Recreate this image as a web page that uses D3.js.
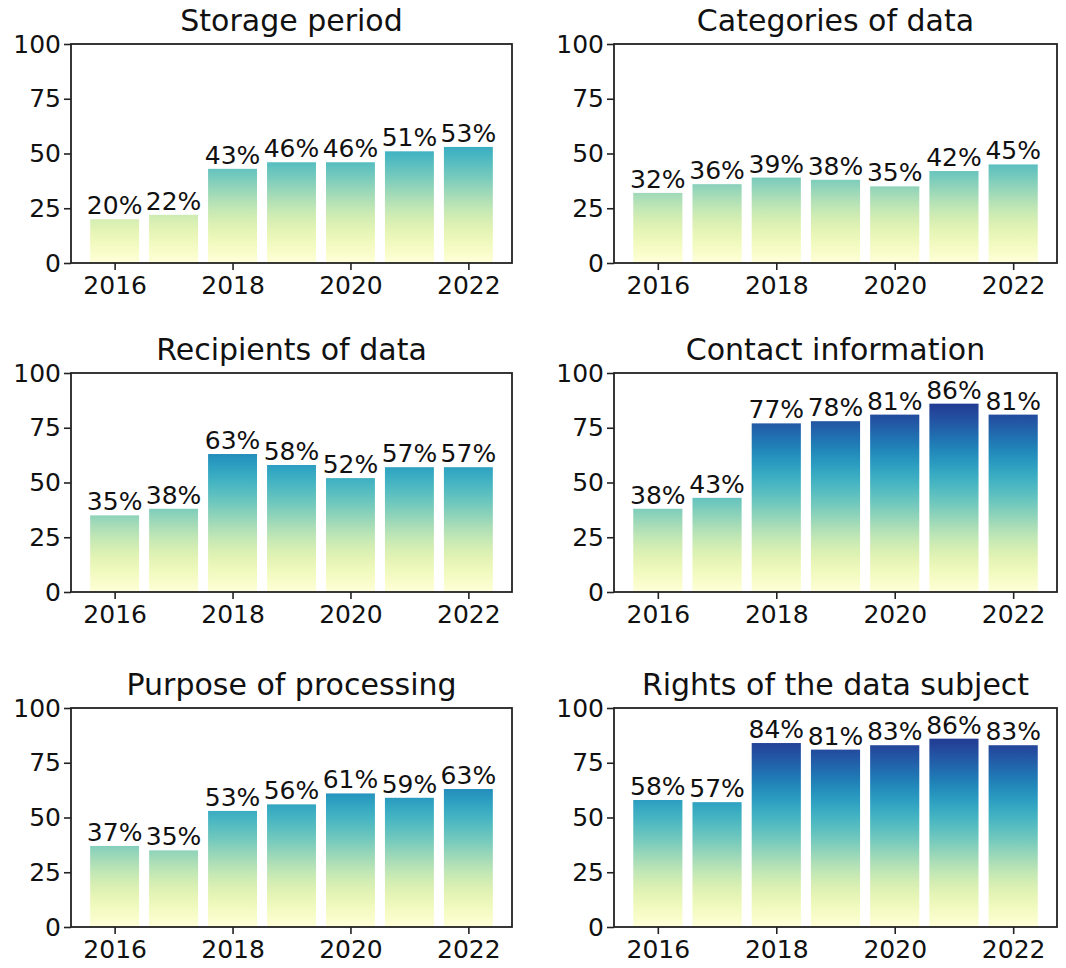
<!DOCTYPE html>
<html>
<head>
<meta charset="utf-8">
<script src="https://cdn.jsdelivr.net/npm/d3@7"></script>
<style>
  body { margin: 0; background: #fff; }
  svg text { font-family: "DejaVu Sans", sans-serif; fill: #111; }
</style>
</head>
<body>
<svg id="chart" width="1066" height="968"></svg>
<script>
// data (percent of policies)
var years = [2016, 2017, 2018, 2019, 2020, 2021, 2022];
var xTicks = [2016, 2018, 2020, 2022];
var yTicks = [0, 25, 50, 75, 100];
var titles = ["Storage period", "Categories of data", "Recipients of data",
              "Contact information", "Purpose of processing", "Rights of the data subject"];
var storagePeriod = [20, 22, 43, 46, 46, 51, 53];
var categoriesOfData = [32, 36, 39, 38, 35, 42, 45];
var recipientsOfData = [35, 38, 63, 58, 52, 57, 57];
var contactInformation = [38, 43, 77, 78, 81, 86, 81];
var purposeOfProcessing = [37, 35, 53, 56, 61, 59, 63];
var rightsOfDataSubject = [58, 57, 84, 81, 83, 86, 83];

var series = [storagePeriod, categoriesOfData, recipientsOfData,
              contactInformation, purposeOfProcessing, rightsOfDataSubject];

var svg = d3.select("#chart");
var defs = svg.append("defs");

// panel boxes (plot area)
var colX = [[71, 512], [614, 1057]];
var rowY = [44, 373, 708];
var plotH = 219;
var barW = 0.83;

series.forEach(function(vals, i) {
  var col = i % 2, row = Math.floor(i / 2);
  var x0 = colX[col][0], x1 = colX[col][1];
  var top = rowY[row], bottom = top + plotH;

  var x = d3.scaleLinear().domain([2015.26, 2022.74]).range([x0, x1]);
  var y = d3.scaleLinear().domain([0, 100]).range([bottom, top]);

  // gradient in data space: colour depends on absolute height
  var grad = defs.append("linearGradient")
      .attr("id", "grad" + i)
      .attr("gradientUnits", "userSpaceOnUse")
      .attr("x1", 0).attr("x2", 0)
      .attr("y1", y(0)).attr("y2", y(100));
  d3.range(0, 1.0001, 0.05).forEach(function(t) {
    grad.append("stop")
        .attr("offset", t)
        .attr("stop-color", d3.interpolateYlGnBu(t));
  });

  var g = svg.append("g");

  g.selectAll("rect.bar")
    .data(vals)
    .enter().append("rect")
      .attr("class", "bar")
      .attr("x", function(d, j) { return x(years[j] - barW / 2); })
      .attr("width", function(d, j) { return x(years[j] + barW / 2) - x(years[j] - barW / 2); })
      .attr("y", function(d) { return y(d); })
      .attr("height", function(d) { return y(0) - y(d); })
      .style("fill", "url(#grad" + i + ")");

  g.selectAll("text.val")
    .data(vals)
    .enter().append("text")
      .attr("class", "val")
      .attr("x", function(d, j) { return x(years[j]); })
      .attr("y", function(d) { return y(d) - 5; })
      .attr("text-anchor", "middle")
      .style("font-size", "25px")
      .text(function(d) { return d + "%"; });

  // axes
  var yAxis = d3.axisLeft(y).tickValues(yTicks).tickSize(7).tickPadding(3);
  var xAxis = d3.axisBottom(x).tickValues(xTicks).tickFormat(d3.format("d")).tickSize(7).tickPadding(6);

  var ya = g.append("g")
      .attr("transform", "translate(" + x0 + ",0)")
      .call(yAxis);
  var xa = g.append("g")
      .attr("transform", "translate(0," + bottom + ")")
      .call(xAxis);
  [ya, xa].forEach(function(a) {
    a.select(".domain").remove();
    a.selectAll(".tick line").attr("stroke", "#222").attr("stroke-width", 1.6);
    a.selectAll(".tick text").style("font-size", "25px").attr("fill", "#111");
  });

  // frame
  g.append("rect")
      .attr("x", x0).attr("y", top)
      .attr("width", x1 - x0).attr("height", plotH)
      .attr("fill", "none")
      .attr("stroke", "#222")
      .attr("stroke-width", 1.8);

  g.append("text")
      .attr("x", (x0 + x1) / 2)
      .attr("y", top - 13)
      .attr("text-anchor", "middle")
      .style("font-size", "30px")
      .text(titles[i]);
});
</script>
</body>
</html>
